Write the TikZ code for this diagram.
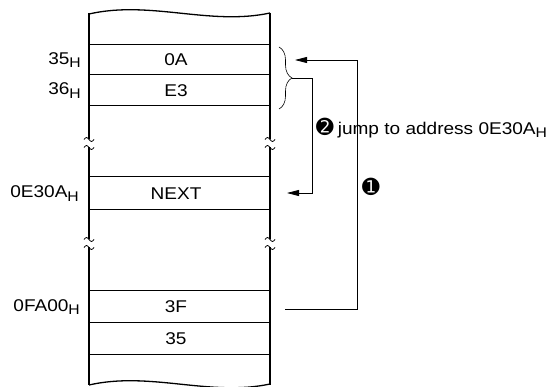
\documentclass[tikz,border=0pt]{standalone}
\usepackage{fontspec}
\setmainfont{Liberation Sans}[FakeStretch=1.12]
\newfontfamily\dingfont{DejaVu Sans}
\usetikzlibrary{positioning,arrows.meta,decorations.pathreplacing}
\newcommand{\hsub}{\raisebox{-0.4ex}{\fontsize{14}{14}\selectfont H}}
\newcommand{\stepmark}[1]{{\dingfont\fontsize{21}{21}\selectfont\char"#1}}

\begin{document}
\begin{tikzpicture}[
            x=1pt, y=-1pt,
            font=\fontsize{17}{20}\selectfont,
            side/.style={line width=1.6pt},
            rowline/.style={line width=1pt},
            wave/.style={line width=1.3pt},
            addr/.style={anchor=east, inner sep=0pt},
            cell/.style={inner sep=0pt},
            arrow/.style={-{Triangle[length=12pt,width=6pt]}, line width=0.8pt},
            note/.style={anchor=west, inner sep=0pt}
        ]
        \useasboundingbox (0,0) rectangle (558,387);

        % Memory block
        \draw[wave] (89,14) .. controls (150,0) and (210,26) .. (270,13);
        \draw[wave] (89,385) .. controls (150,371) and (210,397) .. (270,384);
        \foreach \y in {45,75,106,177,210,291,323,355}
            \draw[rowline] (89,\y) -- (270,\y);
        \foreach \x in {89,270} {
            \draw[side] (\x,13) -- (\x,139.5);
            \draw[side] (\x,147.5) -- (\x,239.5);
            \draw[side] (\x,247.5) -- (\x,385);
            % break marks
            \foreach \c in {143.5,243.5} {
                \draw[line width=0.8pt] (\x-5,\c-4) sin (\x-2.5,\c-6) cos (\x,\c-4) sin (\x+2.5,\c-2) cos (\x+5,\c-4);
                \draw[line width=0.8pt] (\x-5,\c+4) sin (\x-2.5,\c+2) cos (\x,\c+4) sin (\x+2.5,\c+6) cos (\x+5,\c+4);
            }
        }

        % Cell contents
        \node[cell] (v0A) at (176,60) {0A};
        \node[cell] (vE3) at (176,90.5) {E3};
        \node[cell] (vnext) at (176,193.5) {NEXT};
        \node[cell] (v3F) at (176,307) {3F};
        \node[cell] (v35) at (176,339) {35};

        % Addresses
        \node[addr] (a35) at (81,60) {35\hsub};
        \node[addr] (a36) at (81,90.5) {36\hsub};
        \node[addr] (anext) at (79,193.5) {0E30A\hsub};
        \node[addr] (a3F) at (80,307) {0FA00\hsub};

        % Brace over the two operand bytes
        \draw[line width=0.6pt, decorate, decoration={brace, amplitude=13pt, aspect=0.5}]
            (279,47) -- (279,109);
        \coordinate (brtip) at (292,78);
        \coordinate (from3F) at (285,309);
        \coordinate (to35) at (295,60);
        \coordinate (tonext) at (287,193);

        % Step 1: read operand
        \draw[arrow] (from3F) -- (357,309) |- (to35);
        % Step 2: jump
        \draw[arrow] (brtip) -- (312,78) |- (tonext);

        \node[note] (step2) at (316,128) {\stepmark{278B}\hspace{4pt}jump to address 0E30A\hsub};
        \node[note] (step1) at (362,187) {\stepmark{278A}};
        \end{tikzpicture}
\end{document}
